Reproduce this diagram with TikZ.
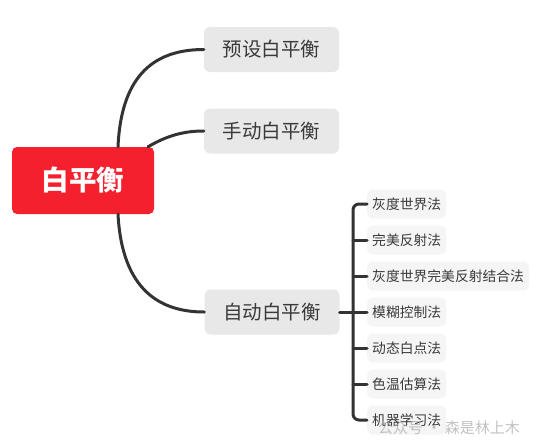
\documentclass[tikz,border=0pt]{standalone}
\usepackage{fontspec}
\setmainfont{Noto Sans CJK SC}
\usepackage{xcolor}
\usetikzlibrary{positioning,calc}
\definecolor{rootred}{HTML}{F5202E}
\definecolor{topicgray}{HTML}{E8E8E8}
\definecolor{leafgray}{HTML}{F5F5F5}
\definecolor{linkdark}{HTML}{333333}
\definecolor{textdark}{HTML}{3A3A3A}

\begin{document}
\begin{tikzpicture}[x=1pt, y=-1pt,
  root/.style={fill=rootred, rounded corners=5pt, text=white,
               minimum width=142pt, minimum height=67pt,
               font=\fontsize{27.5}{30}\selectfont\bfseries},
  topic/.style={fill=topicgray, rounded corners=6pt, text=textdark,
                minimum width=135pt, minimum height=45pt,
                font=\fontsize{19.5}{22}\selectfont},
  leaf/.style={fill=leafgray, rounded corners=6pt, text=textdark,
               anchor=west, minimum height=29pt, inner xsep=5pt,
               font=\fontsize{13.8}{16}\selectfont},
  link/.style={draw=linkdark, line width=3pt, line cap=round}]
\useasboundingbox (0,0) rectangle (537,447);
% main branches
\node[root] (wb) at (83,180.5) {白平衡};
\node[topic] (preset) at (271.5,49.5) {预设白平衡};
\node[topic] (manual) at (271.5,131) {手动白平衡};
\node[topic] (auto) at (272,312) {自动白平衡};
% automatic methods
\node[leaf] (grayworld) at (367,204) {灰度世界法};
\node[leaf] (perfref) at (367,240) {完美反射法};
\node[leaf] (combined) at (367,276) {灰度世界完美反射结合法};
\node[leaf] (fuzzy) at (367,312) {模糊控制法};
\node[leaf] (dynwhite) at (367,348) {动态白点法};
\node[leaf] (colortemp) at (367,384) {色温估算法};
\node[leaf] (learning) at (367,420) {机器学习法};
\coordinate (bar) at (353,312);
% connectors
\draw[link] ([xshift=35pt]wb.north) .. controls (121,80) and (150,49.5) .. (preset.west);
\draw[link] ([xshift=65pt]wb.north) .. controls (168,135) and (185,131) .. (manual.west);
\draw[link] ([xshift=35pt]wb.south) .. controls (122,290) and (160,312) .. (auto.west);
\draw[link, rounded corners=6pt] (grayworld.west) -| (bar) |- (learning.west);
\draw[link] (auto.east) -- (fuzzy.west);
\draw[link] (perfref.west) -- (perfref.west -| bar);
\draw[link] (combined.west) -- (combined.west -| bar);
\draw[link] (dynwhite.west) -- (dynwhite.west -| bar);
\draw[link] (colortemp.west) -- (colortemp.west -| bar);
% watermark
\node[text=black!30, opacity=0.8, font=\fontsize{15}{17}\selectfont]
  (mark) at (449,428) {公众号 · 森是林上木};
\end{tikzpicture}
\end{document}
